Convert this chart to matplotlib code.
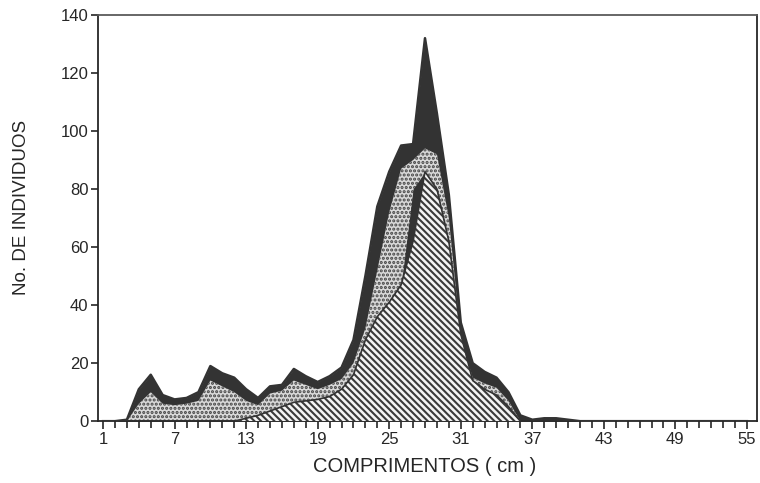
import numpy as np
import matplotlib
matplotlib.use("Agg")
import matplotlib.pyplot as plt
from matplotlib.ticker import MultipleLocator

plt.rcParams["font.family"] = ["Liberation Sans", "DejaVu Sans"]
plt.rcParams["hatch.linewidth"] = 1.5

# comprimento (cm), classes de 1 cm
comprimento = np.arange(1, 56)

# curva externa (total de individuos)
total = [0, 0, 0.5, 11, 16, 9, 7.5, 8, 10, 19,
         16.5, 15, 11, 8, 12, 12.5, 18, 15.5, 13.5, 15.5,
         18.5, 28, 50, 74, 86, 95, 95.5, 132, 106, 78,
         34, 20, 17, 15, 10, 2, 0.5, 1, 1, 0.5,
         0, 0, 0, 0, 0, 0, 0, 0, 0, 0,
         0, 0, 0, 0, 0]

# camada pontilhada
pontilhado = [0, 0, 0, 6, 10, 6, 5.5, 6, 7, 14,
              12, 10, 7, 5.5, 9.5, 10.5, 14, 12.5, 11, 12.5,
              14.5, 20, 32, 52, 72, 87, 90, 94, 92, 70,
              29, 15, 13, 11.5, 7, 0, 0, 0, 0, 0,
              0, 0, 0, 0, 0, 0, 0, 0, 0, 0,
              0, 0, 0, 0, 0]

# contorno escuro da camada hachurada
contorno = [0, 0, 0, 0, 0, 0, 0, 0, 0, 0,
            0, 0, 1, 2, 3.5, 5, 6.5, 7, 7.5, 8.5,
            11, 16, 28, 36, 41, 47, 80, 86, 80, 62,
            30, 14, 11, 9, 5, 0, 0, 0, 0, 0,
            0, 0, 0, 0, 0, 0, 0, 0, 0, 0,
            0, 0, 0, 0, 0]

# camada hachurada
tracejado = [0, 0, 0, 0, 0, 0, 0, 0, 0, 0,
             0, 0, 1, 2, 3.5, 5, 6.5, 7, 7.5, 8.5,
             11, 16, 28, 36, 41, 47, 62, 86, 80, 62,
             30, 14, 11, 9, 5, 0, 0, 0, 0, 0,
             0, 0, 0, 0, 0, 0, 0, 0, 0, 0,
             0, 0, 0, 0, 0]

escuro = "#333333"
texto = "#262626"

fig = plt.figure(figsize=(7.6, 4.83), dpi=100)
ax = fig.add_axes([0.129, 0.128, 0.867, 0.841])

ax.fill_between(comprimento, 0, total, color=escuro, lw=0, zorder=1)
ax.fill_between(comprimento, 0, pontilhado, facecolor="#d9d9d9",
                edgecolor="#454545", hatch="....", lw=0, zorder=2)
ax.fill_between(comprimento, 0, contorno, color=escuro, lw=0, zorder=3)
ax.fill_between(comprimento, 0, tracejado, facecolor="#f4f4f4",
                edgecolor="#3a3a3a", hatch="\\\\\\\\\\", lw=0, zorder=4)
ax.plot(comprimento, tracejado, color=escuro, lw=1.2, zorder=5)
ax.plot(comprimento, total, color=escuro, lw=1.8, zorder=6)

ax.set_xlim(0.58, 55.84)
ax.set_ylim(0, 140)
ax.set_xticks(np.arange(1, 56, 6))
ax.xaxis.set_minor_locator(MultipleLocator(1))
ax.set_yticks(np.arange(0, 141, 20))

ax.tick_params(axis="both", which="both", direction="out", colors=texto,
               labelsize=12, width=1.2)
ax.tick_params(axis="x", which="major", length=6, pad=2)
ax.tick_params(axis="x", which="minor", length=5)
ax.tick_params(axis="y", which="major", length=5, pad=2)
for spine in ax.spines.values():
    spine.set_color(texto)
    spine.set_linewidth(1.3)
ax.spines["top"].set_color("#5a5a5a")

fig.text(425 / 760, 1 - 466 / 483, "COMPRIMENTOS ( cm )", ha="center",
         va="center", fontsize=14.5, color=texto)
fig.text(22 / 760, 1 - 207 / 483, "No. DE INDIVIDUOS", ha="center",
         va="center", rotation=90, fontsize=13.5, color=texto)

fig.savefig("out.png", dpi=100)
